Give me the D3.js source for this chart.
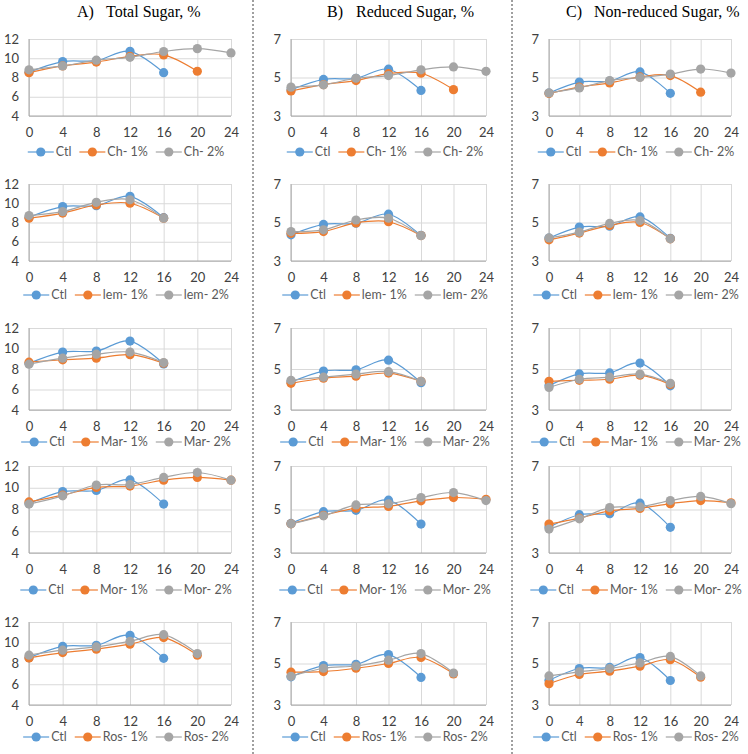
<!DOCTYPE html>
<html>
<head>
<meta charset="utf-8">
<script src="https://cdn.jsdelivr.net/npm/d3@7"></script>
<style>
  body { margin: 0; background: #fff; }
  .tick text { font-family: Lato, "Liberation Sans", sans-serif; font-size: 13px; fill: #404040; }
  .legend text { font-family: Lato, "Liberation Sans", sans-serif; font-size: 12.5px; fill: #595959; }
  .title { font-family: "Liberation Serif", serif; font-size: 16px; fill: #000; }
</style>
</head>
<body>
<div id="chart"></div>
<script>
// ---- data ----
const days = [0, 4, 8, 12, 16, 20, 24];
const panelLetters = ["A)", "B)", "C)"];
const panelTitles = ["Total Sugar, %", "Reduced Sugar, %", "Non-reduced Sugar, %"];
const treatments = ["Ch", "lem", "Mar", "Mor", "Ros"];
const yTicksTotal = [4, 6, 8, 10, 12];
const yTicksSugar = [3, 5, 7];

// control is the same in every row of a column
const ctlTotal = [8.55, 9.65, 9.75, 10.72, 8.5];
const ctlReduced = [4.36, 4.9, 4.96, 5.43, 4.33];
const ctlNonReduced = [4.19, 4.76, 4.81, 5.29, 4.18];

// one array per treatment (Ch, lem, Mar, Mor, Ros)
const total1 = [
  [8.5, 9.2, 9.6, 10.2, 10.35, 8.65],
  [8.45, 8.98, 9.82, 10.0, 8.45],
  [8.67, 8.9, 9.06, 9.4, 8.57],
  [8.7, 9.32, 10.03, 10.15, 10.7, 10.95, 10.7],
  [8.54, 9.05, 9.38, 9.86, 10.5, 8.8]
];
const total2 = [
  [8.8, 9.2, 9.8, 10.1, 10.7, 11.0, 10.55],
  [8.72, 9.13, 10.1, 10.36, 8.45],
  [8.47, 9.06, 9.45, 9.65, 8.63],
  [8.5, 9.26, 10.25, 10.3, 10.95, 11.4, 10.7],
  [8.8, 9.28, 9.6, 10.14, 10.78, 8.96]
];
const reduced1 = [
  [4.3, 4.63, 4.84, 5.2, 5.22, 4.37],
  [4.44, 4.53, 4.98, 5.04, 4.32],
  [4.3, 4.55, 4.65, 4.8, 4.4],
  [4.34, 4.73, 5.06, 5.14, 5.4, 5.55, 5.47],
  [4.58, 4.61, 4.77, 5.0, 5.29, 4.5]
];
const reduced2 = [
  [4.5, 4.62, 4.96, 5.1, 5.4, 5.55, 5.32],
  [4.53, 4.62, 5.13, 5.22, 4.32],
  [4.45, 4.6, 4.75, 4.87, 4.4],
  [4.34, 4.71, 5.21, 5.26, 5.55, 5.78, 5.41],
  [4.38, 4.77, 4.88, 5.16, 5.48, 4.54]
];
const nonReduced1 = [
  [4.17, 4.5, 4.72, 5.03, 5.1, 4.24],
  [4.1, 4.45, 4.85, 5.0, 4.15],
  [4.4, 4.45, 4.5, 4.7, 4.25],
  [4.33, 4.6, 4.94, 5.05, 5.27, 5.41, 5.31],
  [4.03, 4.47, 4.63, 4.87, 5.18, 4.34]
];
const nonReduced2 = [
  [4.2, 4.46, 4.84, 5.0, 5.18, 5.44, 5.23],
  [4.2, 4.5, 4.95, 5.1, 4.15],
  [4.1, 4.5, 4.6, 4.75, 4.3],
  [4.1, 4.57, 5.09, 5.12, 5.41, 5.6, 5.27],
  [4.4, 4.6, 4.76, 5.03, 5.34, 4.4]
];

// ---- layout ----
const width = 748;
const height = 754;
const colors = ["#5B9BD5", "#ED7D31", "#A5A5A5"];
const colX = [[29, 231], [291, 486], [549, 731]];
const rowY = [[39, 116], [184, 261], [328, 410], [466, 553], [622, 705]];
const legendY = [152, 295, 442, 590, 737];
const legendCx = [126, 385, 636];
const titleX = [[77, 106], [327, 356], [566, 594]];
const dividers = [253, 512];
const markerR = 4.6;

const columns = [
  { ctl: ctlTotal, s1: total1, s2: total2, domain: [4, 12], ticks: yTicksTotal },
  { ctl: ctlReduced, s1: reduced1, s2: reduced2, domain: [3, 7], ticks: yTicksSugar },
  { ctl: ctlNonReduced, s1: nonReduced1, s2: nonReduced2, domain: [3, 7], ticks: yTicksSugar }
];

const svg = d3.select("#chart")
  .append("svg")
  .attr("width", width)
  .attr("height", height)
  .attr("viewBox", `0 0 ${width} ${height}`);

svg.append("rect").attr("width", width).attr("height", height).attr("fill", "#fff");

// dotted separators between columns
svg.selectAll("line.divider")
  .data(dividers)
  .enter()
  .append("line")
  .attr("class", "divider")
  .attr("x1", (d) => d).attr("x2", (d) => d)
  .attr("y1", 0).attr("y2", height)
  .attr("stroke", "#404040")
  .attr("stroke-width", 1)
  .attr("stroke-dasharray", "2,2");

// column titles
panelLetters.forEach((letter, i) => {
  svg.append("text").attr("class", "title")
    .attr("x", titleX[i][0]).attr("y", 17).text(letter);
  svg.append("text").attr("class", "title")
    .attr("x", titleX[i][1]).attr("y", 17).text(panelTitles[i]);
});

function drawPanel(ci, ri) {
  const col = columns[ci];
  const [x0, x1] = colX[ci];
  const [top, bottom] = rowY[ri];
  const x = d3.scaleLinear().domain([0, 24]).range([x0, x1]);
  const y = d3.scaleLinear().domain(col.domain).range([bottom, top]);
  const g = svg.append("g");

  // gridlines + tick labels
  const xa = g.append("g")
    .attr("transform", `translate(0,${bottom})`)
    .call(d3.axisBottom(x).tickValues(days).tickFormat(d3.format("d"))
      .tickSize(-(bottom - top)).tickPadding(12));
  const ya = g.append("g")
    .attr("transform", `translate(${x0},0)`)
    .call(d3.axisLeft(y).tickValues(col.ticks).tickFormat(d3.format("d"))
      .tickSize(-(x1 - x0)).tickPadding(10));
  [xa, ya].forEach((a) => {
    a.select(".domain").remove();
    a.selectAll(".tick line").attr("stroke", "#d9d9d9");
  });

  // axis lines (left + bottom)
  g.append("path")
    .attr("d", `M${x0},${top}V${bottom}H${x1}`)
    .attr("fill", "none")
    .attr("stroke", "#a6a6a6");

  const series = [col.ctl, col.s1[ri], col.s2[ri]];
  const line = d3.line()
    .x((d, i) => x(days[i]))
    .y((d) => y(d))
    .curve(d3.curveCatmullRom.alpha(0));

  series.forEach((vals, si) => {
    g.append("path")
      .attr("d", line(vals))
      .attr("fill", "none")
      .attr("stroke", colors[si])
      .attr("stroke-width", 1.2);
    g.selectAll(null)
      .data(vals)
      .enter()
      .append("circle")
      .attr("cx", (d, i) => x(days[i]))
      .attr("cy", (d) => y(d))
      .attr("r", markerR)
      .attr("fill", colors[si]);
  });

  // legend
  const labels = ["Ctl", `${treatments[ri]}- 1%`, `${treatments[ri]}- 2%`];
  const lg = g.append("g").attr("class", "legend");
  const lineLen = 26;
  const gap = 8;
  const items = labels.map((lab, i) => {
    const it = lg.append("g");
    it.append("line")
      .attr("x1", 0).attr("x2", lineLen)
      .attr("stroke", colors[i]).attr("stroke-width", 1.2);
    it.append("circle").attr("cx", lineLen / 2).attr("r", markerR).attr("fill", colors[i]);
    const t = it.append("text").attr("x", lineLen + 2).attr("dy", "0.35em").text(lab);
    return { it, w: lineLen + 2 + t.node().getComputedTextLength() };
  });
  const totalW = d3.sum(items, (d) => d.w) + gap * (items.length - 1);
  let cx = legendCx[ci] - totalW / 2;
  items.forEach((d) => {
    d.it.attr("transform", `translate(${cx},${legendY[ri]})`);
    cx += d.w + gap;
  });
}

columns.forEach((c, ci) => {
  treatments.forEach((t, ri) => drawPanel(ci, ri));
});
</script>
</body>
</html>
